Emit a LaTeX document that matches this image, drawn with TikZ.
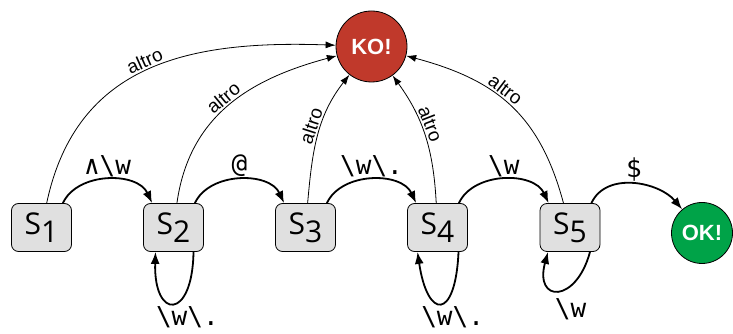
\documentclass[tikz,border=0pt]{standalone}
\usepackage{fontspec}
\setmainfont{Open Sans}
\newfontfamily\monof{DejaVu Sans Mono}
\newfontfamily\arialf{Liberation Sans}
\usetikzlibrary{arrows.meta}
\definecolor{kored}{RGB}{192,57,43}
\definecolor{okgreen}{RGB}{0,163,72}
\definecolor{boxgray}{RGB}{224,224,224}
\begin{document}
\begin{tikzpicture}[x=1pt,y=1pt,
  state/.style={draw, line width=0.8pt, rounded corners=7pt, fill=boxgray,
    minimum width=60pt, minimum height=48pt, inner sep=0pt,
    font=\fontsize{30}{30}\selectfont},
  endst/.style={circle, draw, line width=0.8pt, inner sep=0pt, text=white,
    font=\arialf\bfseries\fontsize{22}{22}\selectfont},
  trans/.style={line width=1.8pt, -{Latex[length=12pt,width=9pt]}},
  fail/.style={line width=0.8pt, -{Latex[length=10pt,width=7pt]}},
  lab/.style={font=\monof\fontsize{26}{26}\selectfont, inner sep=2pt},
  alt/.style={font=\arialf\fontsize{19}{19}\selectfont, sloped, above, inner sep=2pt},
]
\useasboundingbox (0,0) rectangle (733,334);

\node[state] (s1) at (41.5,106.5) {S\raisebox{-8pt}{1}};
\node[state] (s2) at (173.5,106.5) {S\raisebox{-8pt}{2}};
\node[state] (s3) at (305.5,106.5) {S\raisebox{-8pt}{3}};
\node[state] (s4) at (437.5,106.5) {S\raisebox{-8pt}{4}};
\node[state] (s5) at (570,106.5) {S\raisebox{-8pt}{5}};
\node[endst, fill=kored, minimum size=71pt] (ko) at (371.5,287.5) {KO!};
\node[endst, fill=okgreen, minimum size=61pt] (ok) at (702,101) {OK!};

% main transitions
\draw[trans] ([xshift=-9pt]s1.north east) to[out=65,in=115]
  node[lab, above] {∧\textbackslash w} ([xshift=9pt]s2.north west);
\draw[trans] ([xshift=-9pt]s2.north east) to[out=65,in=115]
  node[lab, above] {@} ([xshift=9pt]s3.north west);
\draw[trans] ([xshift=-9pt]s3.north east) to[out=65,in=115]
  node[lab, above] {\textbackslash w\textbackslash .} ([xshift=9pt]s4.north west);
\draw[trans] ([xshift=-9pt]s4.north east) to[out=65,in=115]
  node[lab, above] {\textbackslash w} ([xshift=9pt]s5.north west);
\draw[trans] ([xshift=-9pt]s5.north east) to[out=65,in=130]
  node[lab, above] {\$} (ok);

% loops
\draw[trans] ([xshift=20pt]s2.south) .. controls +(-1,-69) and +(-2,-68) ..
  ([xshift=-18pt]s2.south) node[lab, pos=0.5, below, xshift=14pt] {\textbackslash w\textbackslash .};
\draw[trans] ([xshift=21pt]s4.south) .. controls +(-3,-69) and +(10,-68) ..
  ([xshift=-20pt]s4.south) node[lab, pos=0.5, below, xshift=12pt] {\textbackslash w\textbackslash .};
\draw[trans] ([xshift=20pt]s5.south) .. controls +(-14,-52) and +(-14,-51) ..
  ([xshift=-22pt]s5.south) node[lab, pos=0.5, below, xshift=12pt, yshift=-5pt] {\textbackslash w};

% failure transitions
\draw[fail] (s1) to[out=78,in=178,looseness=1.12] node[alt, pos=0.5] {altro} (ko);
\draw[fail] (s2) to[out=82,in=195,looseness=1.05] node[alt, pos=0.5] {altro} (ko);
\draw[fail] (s3) to[out=85,in=232] node[alt, pos=0.55] {altro} (ko);
\draw[fail] (s4) to[out=93,in=306] node[alt, pos=0.57] {altro} (ko);
\draw[fail] (s5) to[out=105,in=345,looseness=1.1] node[alt, pos=0.56] {altro} (ko);
\end{tikzpicture}
\end{document}
